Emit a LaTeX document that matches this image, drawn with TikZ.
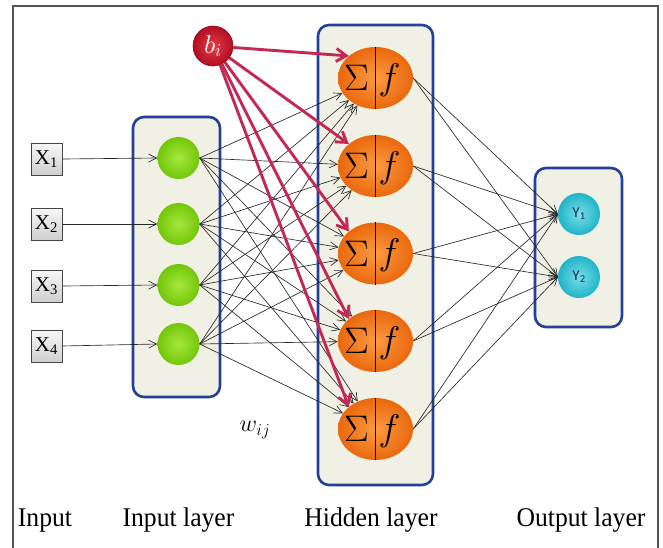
\RequirePackage{fix-cm}
\documentclass[tikz,border=0pt]{standalone}
\usepackage{fontspec}
\setmainfont{Liberation Serif}
\newfontfamily\capfont[FakeStretch=0.95]{Liberation Serif}
\newfontfamily\ysans{Carlito}
\usetikzlibrary{arrows.meta,shapes.geometric}
\definecolor{boxblue}{RGB}{35,65,150}
\definecolor{boxfill}{RGB}{241,240,229}
\definecolor{greenin}{RGB}{165,232,60}
\definecolor{greenout}{RGB}{115,198,10}
\definecolor{orangein}{RGB}{252,155,65}
\definecolor{orangeout}{RGB}{234,104,14}
\definecolor{redin}{RGB}{228,62,72}
\definecolor{redout}{RGB}{178,14,34}
\definecolor{cyanin}{RGB}{120,222,232}
\definecolor{cyanout}{RGB}{32,180,200}
\definecolor{arrowgray}{RGB}{40,40,40}
\definecolor{biasred}{RGB}{196,40,84}
\definecolor{framegray}{RGB}{85,85,85}
\definecolor{ytext}{RGB}{30,40,85}
\tikzset{
  layerbox/.style={draw=boxblue, line width=2.6pt, fill=boxfill, rounded corners=11pt, inner sep=0pt},
  xin/.style={draw=gray!55!black, line width=0.8pt, top color=gray!6, bottom color=gray!38,
    minimum width=31pt, minimum height=32pt, inner sep=0pt,
    font=\fontsize{21}{21}\selectfont},
  inode/.style={circle, minimum size=42pt, inner sep=0pt, inner color=greenin, outer color=greenout},
  hnode/.style={ellipse, minimum width=75pt, minimum height=62pt, inner sep=0pt,
    inner color=orangein, outer color=orangeout},
  onode/.style={circle, minimum size=42pt, inner sep=0pt, inner color=cyanin, outer color=cyanout,
    text=ytext, font=\ysans\fontsize{15}{15}\selectfont},
  bnode/.style={circle, minimum size=40pt, inner sep=0pt, inner color=redin, outer color=redout,
    draw=redout!80!black, line width=0.6pt, text=white, font=\fontsize{26}{26}\selectfont},
  symb/.style={inner sep=0pt, font=\fontsize{37}{37}\selectfont},
  conn/.style={-{Straight Barb[length=8pt,width=8pt]}, line width=0.65pt, draw=arrowgray},
  bias/.style={-{Straight Barb[length=10pt,width=13pt]}, line width=2.9pt, draw=biasred},
  layerlabel/.style={anchor=base, inner sep=0pt, font=\capfont\fontsize{27}{27}\selectfont},
}
\begin{document}
\begin{tikzpicture}[x=1pt,y=-1pt]
\useasboundingbox[fill=white] (0,0) rectangle (663,547);
\draw[framegray, line width=2.5pt] (13,550) -- (13,6) -- (658,6) -- (658,550);

% layer boxes
\node[layerbox, minimum width=87pt, minimum height=280pt] (inbox) at (176.5,257) {};
\node[layerbox, minimum width=115pt, minimum height=460pt] (hidbox) at (375.5,255) {};
\node[layerbox, minimum width=87pt, minimum height=159pt] (outbox) at (578.5,247.5) {};

% inputs
\node[xin] (x1) at (46.5,159) {X\textsubscript{1}};
\node[xin] (x2) at (46.5,224) {X\textsubscript{2}};
\node[xin] (x3) at (46.5,286) {X\textsubscript{3}};
\node[xin] (x4) at (46.5,346) {X\textsubscript{4}};

% input layer
\node[inode] (g1) at (178.5,158) {};
\node[inode] (g2) at (178.5,224) {};
\node[inode] (g3) at (178.5,285) {};
\node[inode] (g4) at (178.5,344) {};

% hidden layer
\foreach \j/\yy in {1/78,2/166,3/253.5,4/341,5/429}{
  \node[hnode] (h\j) at (375.5,\yy) {};
  \draw[line width=0.8pt] (h\j.north) -- (h\j.south);
  \node[symb] (s\j) at ([xshift=-19pt]h\j.center) {$\Sigma$};
  \node[symb] (f\j) at ([xshift=14pt,yshift=-2pt]h\j.center) {$f$};
}

% output layer
\node[onode] (y1) at (579,214) {Y\textsubscript{1}};
\node[onode] (y2) at (579,277) {Y\textsubscript{2}};

% bias
\node[bnode] (b) at (213,46) {$b_{i}$};

% weight label
\node[inner sep=0pt, font=\fontsize{24}{24}\selectfont] (w) at (255,430) {$w_{ij}$};

% connections
\foreach \i in {1,...,4}{
  \draw[conn] (x\i.east) -- (g\i.west);
  \foreach \j in {1,...,5}{
    \draw[conn] (g\i.east) -- (h\j);
  }
}
\foreach \j in {1,...,5}{
  \foreach \k in {1,2}{
    \draw[conn] (h\j.east) -- (y\k.west);
  }
}
\foreach \j in {1,...,5}{
  \draw[bias] (b) -- (h\j.north west);
}

% captions
\node[layerlabel] (c0) at (45,526) {Input};
\node[layerlabel] (c1) at (178.5,526) {Input layer};
\node[layerlabel] (c2) at (371,526) {Hidden layer};
\node[layerlabel] (c3) at (581,526) {Output layer};
\end{tikzpicture}
\end{document}
